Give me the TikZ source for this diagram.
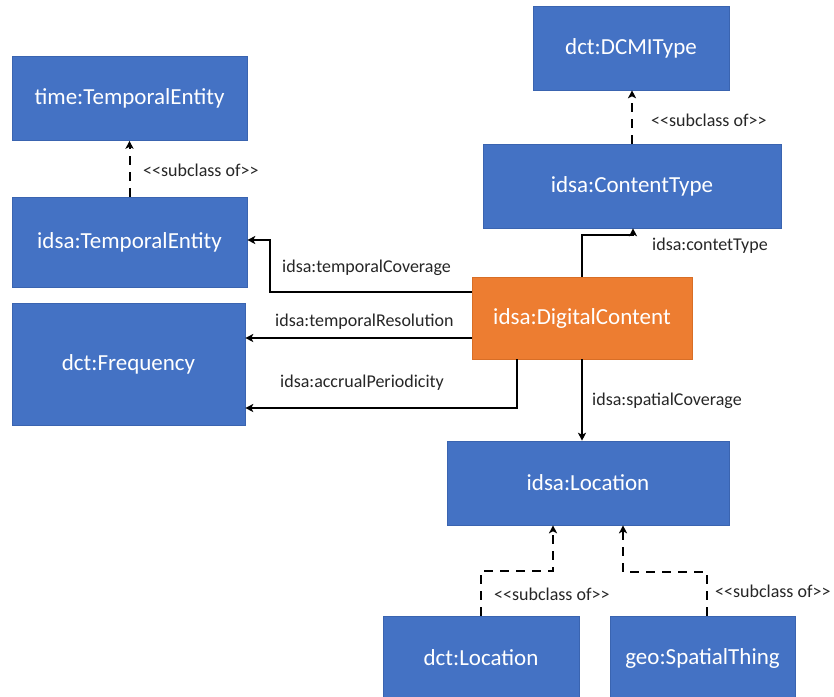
\documentclass[tikz,border=0pt]{standalone}
\usepackage{fontspec}
\setmainfont{Carlito}
\usetikzlibrary{arrows.meta}
\definecolor{boxblue}{HTML}{4472C4}
\definecolor{boxedge}{HTML}{3A64B0}
\definecolor{boxorange}{HTML}{ED7D31}
\definecolor{orangeedge}{HTML}{D86E26}
\newcommand{\subof}{<\kern0pt<subclass of>\kern0pt>}
\tikzset{
  cls/.style={draw=boxedge, line width=0.6pt, fill=boxblue, text=white,
    font=\fontsize{23}{26}\selectfont, inner sep=0pt},
  main/.style={cls, draw=orangeedge, fill=boxorange},
  conn/.style={line width=2pt, draw=black, -{Stealth[length=8pt,width=8pt,inset=2pt]}},
  sub/.style={conn, dash pattern=on 9pt off 7pt},
  lbl/.style={anchor=west, inner sep=0pt, font=\fontsize{18}{20}\selectfont, text=black!85}
}
\begin{document}
\begin{tikzpicture}[x=1pt,y=-1pt]
\useasboundingbox (0,0) rectangle (834,696);
\fill[white] (0,0) rectangle (834,696);

% classes
\node[cls, minimum width=235pt, minimum height=84pt] (time) at (129.5,98.5) {time:TemporalEntity};
\node[cls, minimum width=235pt, minimum height=90pt] (idsaTE) at (129.5,242) {idsa:TemporalEntity};
\node[cls, minimum width=233pt, minimum height=122pt] (freq) at (128.5,364) {dct:Frequency};
\node[main, minimum width=220pt, minimum height=82pt] (digital) at (582,318) {idsa:DigitalContent};
\node[cls, minimum width=196pt, minimum height=84pt] (dcmi) at (631,48) {dct:DCMIType};
\node[cls, minimum width=298pt, minimum height=84pt] (ctype) at (632,186) {idsa:ContentType};
\node[cls, minimum width=282pt, minimum height=84pt] (loc) at (588,483) {idsa:Location};
\node[cls, minimum width=196pt, minimum height=84pt] (dctloc) at (481,658) {dct:Location};
\node[cls, minimum width=185pt, minimum height=84pt] (geo) at (702.5,658) {geo:SpatialThing};

% bend points
\coordinate (tc) at (270,240);
\coordinate (ap) at (517,408);
\coordinate (ct) at (633,235);
\coordinate (dl) at (553,571);
\coordinate (gl) at (623,572);

% subclass links
\draw[sub] (idsaTE.north) -- (time.south);
\draw[sub] (ctype.north) -- (ctype.north |- dcmi.south);
\draw[sub] (dctloc.north) |- (dl) -- (dl |- loc.south);
\draw[sub] ([xshift=4.5pt]geo.north) |- (gl) -- (gl |- loc.south);

% properties
\draw[conn] ([yshift=26pt]digital.west) -| (tc) -- (tc -| idsaTE.east);
\draw[conn] ([yshift=-20pt]digital.west) -- ([yshift=-20pt]digital.west -| freq.east);
\draw[conn] (digital.south -| ap) -- (ap) -- (ap -| freq.east);
\draw[conn] (digital.north) |- (ct) -- (ct |- ctype.south);
\draw[conn] (digital.south) -- (digital.south |- loc.north);

% link labels
\node[lbl] (l1) at (143,170) {\subof};
\node[lbl] (l2) at (282,268) {idsa:temporalCoverage};
\node[lbl] (l3) at (275,322) {idsa:temporalResolution};
\node[lbl] (l4) at (280,383) {idsa:accrualPeriodicity};
\node[lbl] (l5) at (652,246) {idsa:contetType};
\node[lbl] (l6) at (651,120) {\subof};
\node[lbl] (l7) at (592,401) {idsa:spatialCoverage};
\node[lbl] (l8) at (494,594) {\subof};
\node[lbl] (l9) at (715,591) {\subof};
\end{tikzpicture}
\end{document}
